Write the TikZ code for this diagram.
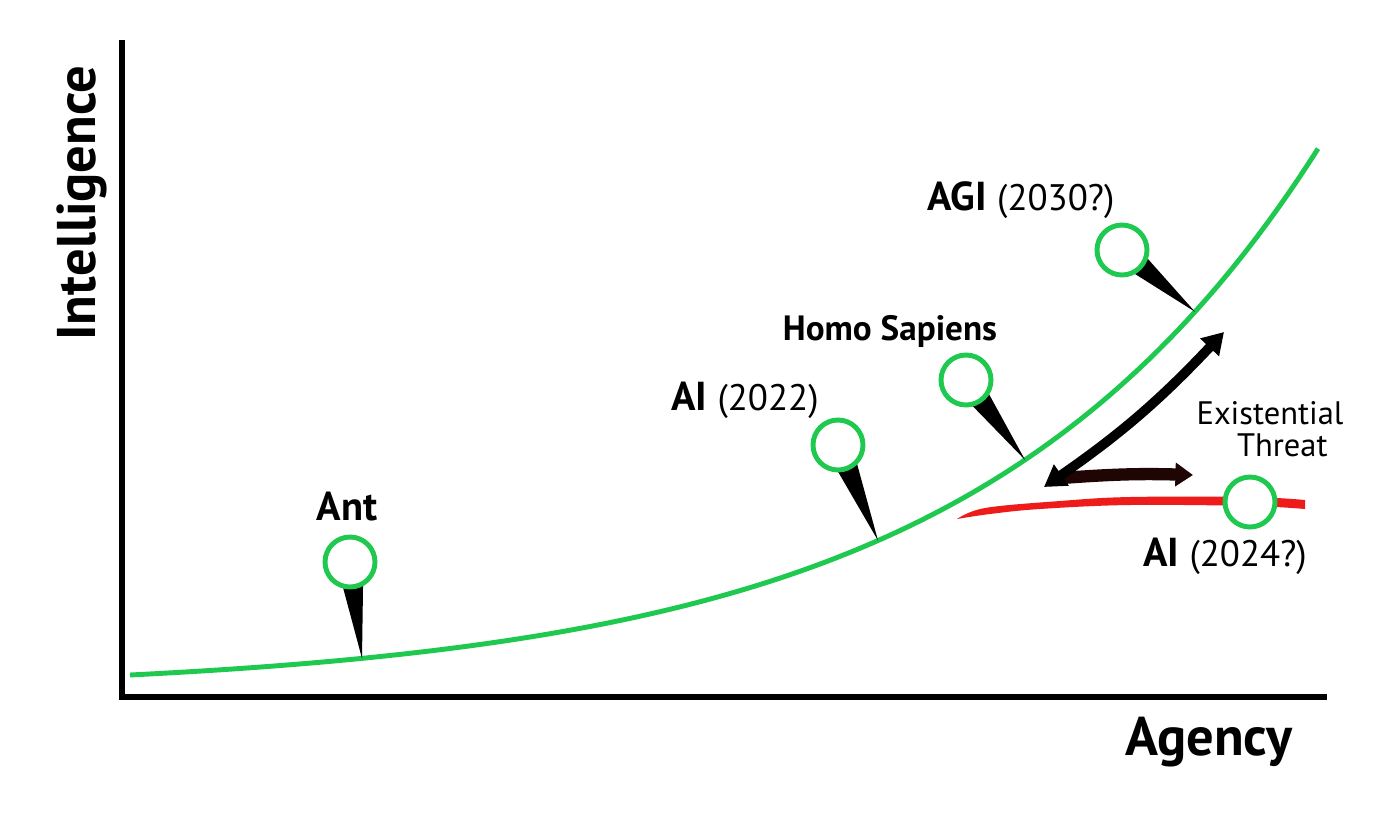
\documentclass[tikz,border=0pt]{standalone}
\usepackage{fontspec}
\setmainfont{PT Sans}
\usetikzlibrary{arrows.meta}
\usetikzlibrary{calc}
\definecolor{agink}{HTML}{000000}
\definecolor{agcurve}{HTML}{1FC94F}
\definecolor{agred}{HTML}{EE1B1B}
\definecolor{agbrown}{HTML}{200505}
\tikzset{
  declare function={agy(\t)=675-17.36*(exp(0.0029*(\t-130))-1);},
  agaxis/.style={draw=agink, line width=3.4pt},
  agpin/.style={
    circle, draw=agcurve, fill=white, line width=2.8pt,
    minimum size=1cm, inner sep=0pt},
  agtail/.style={fill=agink},
  agarrow/.style={
    {Triangle[length=12pt, width=14pt]}-{Triangle[length=12pt, width=14pt]},
    draw=agink, line width=5.5pt},
  agonearrow/.style={
    -{Triangle[length=10pt, width=13pt]}, draw=agbrown, line width=7pt},
  agname/.style={font=\fontsize{23}{26}\selectfont\bfseries, text=agink},
  agsmall/.style={font=\fontsize{18.5}{21}\selectfont, text=agink},
  agaxislabel/.style={font=\fontsize{31}{36}\selectfont\bfseries, text=agink},
}
\newcommand{\agyear}[1]{{\fontsize{21}{24}\mdseries\selectfont #1}}

\begin{document}
\begin{tikzpicture}[x=0.02cm, y=-0.02cm]

\fill[white] (0, 0) rectangle (1400, 836);
\useasboundingbox (0, 0) rectangle (1400, 836);

% Axes.
\coordinate (top) at (122, 40);
\coordinate (origin) at (122, 697);
\coordinate (right) at (1327, 697);
\draw[agaxis] (top) -- (origin) -- (right);
\node[agaxislabel, rotate=90] (intel) at (82, 203) {Intelligence};
\node[agaxislabel] (agency) at (1209, 742) {Agency};

% Points on the curve and the pin heads.
\coordinate (antTip) at (362, {agy(362)});
\coordinate (ai22Tip) at (878, {agy(878)});
\coordinate (homoTip) at (1025, {agy(1025)});
\coordinate (agiTip) at (1195, {agy(1195)});
\coordinate (antHead) at (350, 562);
\coordinate (ai22Head) at (838, 445);
\coordinate (homoHead) at (966, 380);
\coordinate (agiHead) at (1122, 250);

% Intelligence over agency.
\draw[draw=agcurve, line width=2.8pt]
  plot[domain=130:1318, samples=120] (\x, {agy(\x)});

% The flattening branch (a tapered stroke).
\fill[agred]
  plot[smooth, tension=0.6] coordinates {
    (957, 519) (985, 508) (1060, 501) (1130, 497) (1250, 497) (1305, 500)}
  -- plot[smooth, tension=0.6] coordinates {
    (1305, 509) (1250, 506) (1130, 505) (1040, 509) (990, 514) (957, 519)}
  -- cycle;

% Pin tails.
\foreach \pin in {ant, ai22, homo, agi} {
  \fill[agtail] ($(\pin Head)!0.27cm!90:(\pin Tip)$) -- (\pin Tip)
    -- ($(\pin Head)!0.27cm!-90:(\pin Tip)$) -- cycle;
}

% Pin heads.
\node[agpin] (ant) at (antHead) {};
\node[agpin] (ai22) at (ai22Head) {};
\node[agpin] (homo) at (homoHead) {};
\node[agpin] (agi) at (agiHead) {};
\node[agpin] (ai24) at (1250, 502) {};

% Labels.
\node[agname] (antLabel) at (347, 507) {Ant};
\node[agname] (ai22Label) at (745, 400) {AI \agyear{(2022)}};
\node[agname, font=\fontsize{20}{23}\selectfont\bfseries]
  (homoLabel) at (890, 331) {Homo Sapiens};
\node[agname] (agiLabel) at (1021, 200) {AGI \agyear{(2030?)}};
\node[agname] (ai24Label) at (1225, 556) {AI \agyear{(2024?)}};
\node[agsmall, align=center] (threat) at (1270, 429)
  {Existential\\[-3pt]\hspace*{14pt}Threat};

% The gap between the branches.
\coordinate (gapLow) at (1044, 487);
\coordinate (gapHigh) at (1224, 332);
\coordinate (gapStart) at (1062, 478);
\coordinate (gapRight) at (1193, 475);
\draw[agonearrow] (gapStart) to[bend left=3] (gapRight);
\draw[agarrow] (gapLow) to[bend right=6] (gapHigh);

\end{tikzpicture}
\end{document}
